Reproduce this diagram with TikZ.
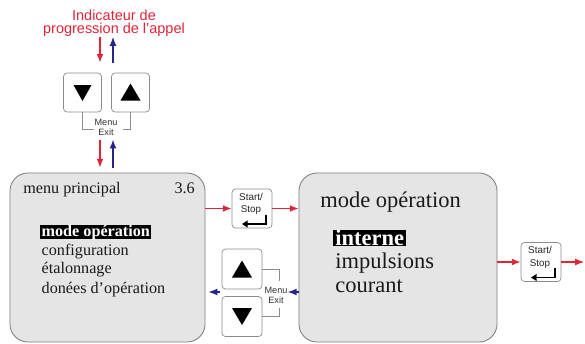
\documentclass[tikz,border=0pt]{standalone}
\usepackage{fontspec}
\setmainfont{Liberation Serif}
\setsansfont{Liberation Sans}
\usepackage{tikz}
\usetikzlibrary{arrows.meta,positioning,calc}
\definecolor{CallRed}{RGB}{226,36,58}
\definecolor{CallBlue}{RGB}{40,36,140}
\definecolor{PanelGray}{RGB}{229,229,229}
\definecolor{PanelEdge}{RGB}{125,125,125}
\definecolor{KeyEdge}{RGB}{140,140,140}

\begin{document}
\begin{tikzpicture}[x=0.025cm, y=-0.025cm,
    panel/.style={draw=PanelEdge, fill=PanelGray, rounded corners=0.45cm, line width=0.6pt, minimum height=4.225cm},
    keybox/.style={draw=KeyEdge, fill=white, rounded corners=2.5pt, line width=0.5pt, minimum width=1cm, minimum height=1cm, inner sep=0pt},
    keytxt/.style={font=\sffamily\fontsize{7}{9}\selectfont, align=center, inner sep=0pt, text=black!85},
    menutxt/.style={font=\sffamily\fontsize{6.5}{6.6}\selectfont, align=center, inner sep=0pt, text=black!80},
    bracket/.style={draw=KeyEdge, line width=0.5pt},
    fwd/.style={draw=CallRed, line width=0.8pt, -{Latex[length=2.2mm, width=1.7mm]}},
    back/.style={draw=CallBlue, line width=0.8pt, -{Latex[length=2.2mm, width=1.7mm]}},
    enterkey/.style={line width=1.2pt, -{Triangle[length=1.4mm, width=1.7mm]}},
    item/.style={anchor=base west, inner xsep=1pt, inner ysep=0pt, font=\fontsize{11.5}{13}\selectfont, text=black!90},
    bigitem/.style={anchor=base west, inner xsep=1.5pt, inner ysep=0pt, font=\fontsize{16}{18}\selectfont, text=black!90},
    sel/.style={fill=black, text=white}]
  \useasboundingbox (0,0) rectangle (585,343);

  % call progress label
  \node[anchor=south, inner sep=0pt, align=center, text=CallRed, font=\sffamily\fontsize{10.3}{9.5}\selectfont] (title) at (114,37) {Indicateur de\\progression de l'appel};
  \coordinate (inA) at (100,0);
  \coordinate (outA) at (113,0);

  % top arrow keys
  \node[keybox, minimum width=0.95cm, minimum height=0.975cm] (dnA) at (82.5,92.5) {};
  \node[keybox, minimum width=0.95cm, minimum height=0.975cm] (upA) at (130.5,92.5) {};
  \fill[shift={(dnA.center)}] (-9,-7.5) -- (9,-7.5) -- (0,8.5) -- cycle;
  \fill[shift={(upA.center)}] (-10,8) -- (10,8) -- (0,-9) -- cycle;
  \node[menutxt] (mxA) at (106,127.5) {Menu\\Exit};
  \draw[bracket] (dnA.south) -- ++(0,16.5) -- ++(11,0);
  \draw[bracket] (upA.south) -- ++(0,16.5) -- ++(-8,0);

  \draw[fwd, shorten >=0.25cm] (title.south -| inA) -- (dnA.north -| inA);
  \draw[back, shorten <=0.25cm] (dnA.north -| outA) -- (title.south -| outA);

  % panels
  \node[panel, minimum width=4.875cm] (mainpanel) at (107.5,257.5) {};
  \node[panel, minimum width=4.95cm] (modepanel) at (398,257.5) {};

  \draw[fwd, shorten <=0.1cm, shorten >=0.125cm] (mxA.south -| inA) -- (mainpanel.north -| inA);
  \draw[back, shorten <=0.125cm, shorten >=0.1cm] (mainpanel.north -| outA) -- (mxA.south -| outA);

  % main menu
  \node[anchor=base west, inner sep=0pt, font=\fontsize{11.5}{13}\selectfont, text=black!90] (mainhead) at (23,193) {menu principal};
  \node[anchor=base east, inner sep=0pt, font=\fontsize{11.5}{13}\selectfont, text=black!90] (mainver) at (195,193) {3.6};
  \node[item, sel] (mainsel) at (40,236) {\bfseries mode opération};
  \node[item] (mainconf) at (40,255) {configuration};
  \node[item] (maincal) at (40,273) {étalonnage};
  \node[item] (maindata) at (40,293) {donées d'opération};

  % operating mode menu
  \node[anchor=base west, inner sep=0pt, font=\fontsize{16}{18}\selectfont, text=black!90] (modehead) at (320,207) {mode opération};
  \node[bigitem, sel, text height=11pt, text depth=1pt] (modeint) at (333,245) {\bfseries interne};
  \node[bigitem] (modeimp) at (333,268) {impulsions};
  \node[bigitem] (modecur) at (333,292) {courant};

  % start/stop keys
  \node[keybox, minimum height=0.975cm] (ssA) at (252,208.5) {};
  \node[keytxt] (ssAtxt) at ($(ssA.center)+(-1,-4.5)$) {Start/\\Stop};
  \draw[enterkey, shift={(ssA.center)}] (14,6) -- (14,15.5) -- (-10,15.5);
  \node[keybox, minimum height=0.975cm] (ssB) at (541,262) {};
  \node[keytxt] (ssBtxt) at ($(ssB.center)+(-1,-4.5)$) {Start/\\Stop};
  \draw[enterkey, shift={(ssB.center)}] (14,6) -- (14,15.5) -- (-10,15.5);
  \coordinate (exitB) at (584,0);

  \draw[fwd] (mainpanel.east |- ssA.west) -- (ssA.west);
  \draw[fwd] (ssA.east) -- (modepanel.west |- ssA.east);
  \draw[fwd] (modepanel.east |- ssB.west) -- (ssB.west);
  \draw[fwd] (ssB.east) -- (ssB.east -| exitB);

  % lower arrow keys
  \node[keybox] (upB) at (242,269) {};
  \node[keybox] (dnB) at (242,316.5) {};
  \fill[shift={(upB.center)}] (-10,8.5) -- (10,8.5) -- (0,-8.5) -- cycle;
  \fill[shift={(dnB.center)}] (-10,-8.5) -- (10,-8.5) -- (0,8.5) -- cycle;
  \node[menutxt] (mxB) at (276,295.5) {Menu\\Exit};
  \draw[bracket] (upB.east) -- ++(17,0) -- ++(0,12);
  \draw[bracket] (dnB.east) -- ++(17,0) -- ++(0,-9);
  \coordinate (lvlB) at (0,292);

  \draw[back] (modepanel.west |- lvlB) -- (mxB.east |- lvlB);
  \draw[back, shorten <=0.05cm, shorten >=0.075cm] (upB.west |- lvlB) -- (mainpanel.east |- lvlB);
\end{tikzpicture}
\end{document}
